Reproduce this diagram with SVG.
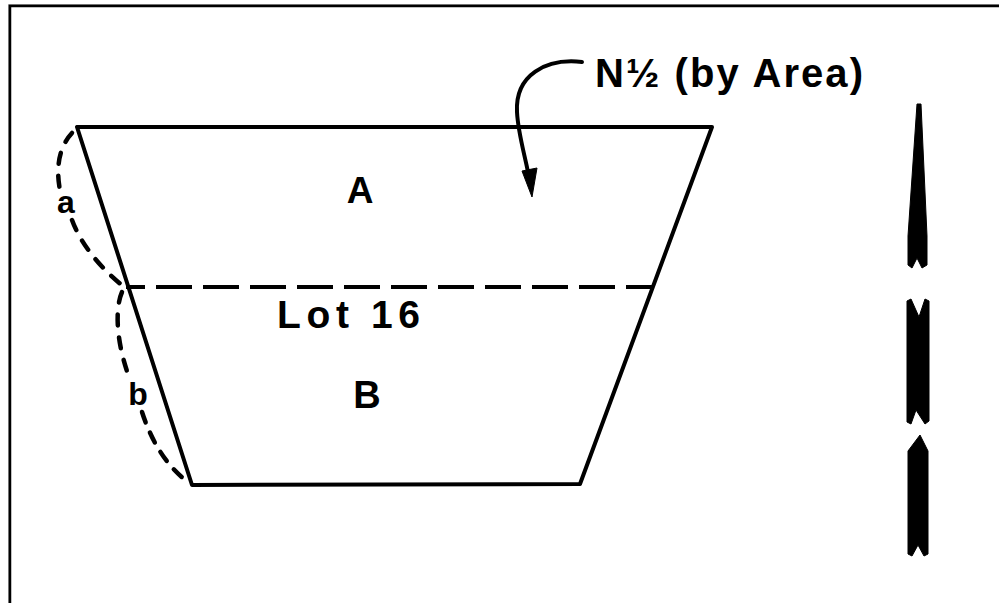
<svg xmlns="http://www.w3.org/2000/svg" width="999" height="603" viewBox="0 0 999 603">
<style>
.ln{fill:none;stroke:#000;stroke-width:4;stroke-linejoin:round;stroke-linecap:round}
.dsh{fill:none;stroke:#000;stroke-width:4;stroke-linecap:butt}
.cdsh{fill:none;stroke:#000;stroke-width:4.5;stroke-linecap:round}
.lbl{font-family:"Liberation Sans",Arial,sans-serif;font-weight:bold;fill:#000}
.blk{fill:#000;stroke:#000;stroke-width:1;stroke-linejoin:round}
</style>
<rect width="999" height="603" fill="#fff"/>
<g id="frame">
<path d="M8.5,620 V4.5 H1010" fill="none" stroke="#999" stroke-width="1"/>
<path d="M10,620 V6 H1010" fill="none" stroke="#000" stroke-width="2.5"/>
</g>
<g id="lot16">
<polygon class="ln" points="77,127 712,127 580,484 192,485"/>
<path class="dsh" d="M126,287 H653" stroke-dasharray="36 11" stroke-dashoffset="17"/>
</g>
<g id="curve-a">
<path class="cdsh" d="M72,133 C58,148 56,170 60,190" stroke-dasharray="11 12"/>
<path class="cdsh" d="M72,220 C80,242 98,266 123,286" stroke-dasharray="11 12"/>
<text class="lbl" x="66" y="213" font-size="32" text-anchor="middle">a</text>
</g>
<g id="curve-b">
<path class="cdsh" d="M122,292 C115,308 116,340 128,374" stroke-dasharray="11 12"/>
<path class="cdsh" d="M142,412 C151,440 166,466 188,482" stroke-dasharray="11 11"/>
<text class="lbl" x="138" y="405" font-size="32" text-anchor="middle">b</text>
</g>
<g id="label-A"><text class="lbl" x="360" y="203" font-size="37" text-anchor="middle">A</text></g>
<g id="label-lot"><text class="lbl" x="277" y="328" font-size="39" textLength="143">Lot 16</text></g>
<g id="label-B"><text class="lbl" x="367" y="408" font-size="38" text-anchor="middle">B</text></g>
<g id="label-north-half"><text class="lbl" x="595" y="87" font-size="40" textLength="268">N½ (by Area)</text></g>
<g id="connectors">
<path class="ln" d="M582,62 C546,58 515,75 517,112 C518,132 524,152 528,172"/>
<polygon class="blk" points="522,171 537,168 532,197"/>
</g>
<g id="north-arrow">
<polygon class="blk" points="917,104 921,104 927,236 927,265 922,268 917,258 912,268 908,265 908,236"/>
<polygon class="blk" points="907,301 911,299 919,317 925,299 929,301 929,421 925,424 916,410 911,424 907,422"/>
<polygon class="blk" points="920,435 928,451 928,554 924,556 918,545 912,556 908,554 908,451"/>
</g>
</svg>
